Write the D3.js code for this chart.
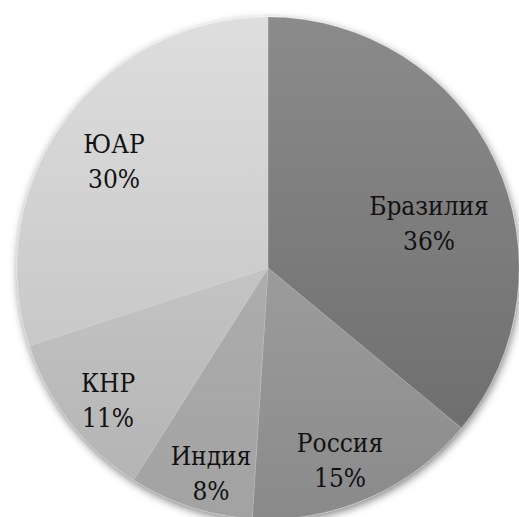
<!DOCTYPE html>
<html>
<head>
<meta charset="utf-8">
<script src="https://cdn.jsdelivr.net/npm/d3@7"></script>
<style>
  html, body { margin: 0; padding: 0; background: #fff; }
  svg { display: block; }
  .lbl { font-family: "DejaVu Serif Condensed", "DejaVu Serif", serif; font-stretch: condensed; font-size: 26px; }
</style>
</head>
<body>
<svg id="chart" width="519" height="517"></svg>
<script>
// Share by country, percent
const countries = ["Бразилия", "Россия", "Индия", "КНР", "ЮАР"];
const shares = [36, 15, 8, 11, 30];

// Slice shading (top, bottom of each gradient)
const shadeTop = ["#8b8b8b", "#9c9c9c", "#adadad", "#c4c4c4", "#dedede"];
const shadeBottom = ["#6f6f6f", "#8a8a8a", "#a2a2a2", "#b4b4b4", "#c8c8c8"];

// Label anchor points (centre of the two-line label)
const labelPos = [[429, 222], [340, 459], [211, 472], [108, 399], [114, 160]];

const cx = 268, cy = 268, R = 251;

const svg = d3.select("#chart");
const defs = svg.append("defs");

const shadow = defs.append("filter")
  .attr("id", "pieShadow")
  .attr("x", "-10%").attr("y", "-10%")
  .attr("width", "120%").attr("height", "120%");
shadow.append("feDropShadow")
  .attr("dx", 1).attr("dy", 3)
  .attr("stdDeviation", 4)
  .attr("flood-color", "#000")
  .attr("flood-opacity", 0.5);

countries.forEach((c, i) => {
  const g = defs.append("linearGradient")
    .attr("id", "shade" + i)
    .attr("x1", 0).attr("y1", 0).attr("x2", 0).attr("y2", 1);
  g.append("stop").attr("offset", "0%").attr("stop-color", shadeTop[i]);
  g.append("stop").attr("offset", "100%").attr("stop-color", shadeBottom[i]);
});

const data = countries.map((name, i) => ({ name, value: shares[i], i }));

const pie = d3.pie().sort(null).value(d => d.value);
const arc = d3.arc().innerRadius(0).outerRadius(R);

const g = svg.append("g")
  .attr("transform", `translate(${cx},${cy})`);

const slices = g.append("g").attr("filter", "url(#pieShadow)");
slices.selectAll("path")
  .data(pie(data))
  .join("path")
  .attr("d", arc)
  .attr("fill", d => `url(#shade${d.data.i})`)
  .attr("stroke", "rgba(255,255,255,0.25)")
  .attr("stroke-width", 0.6);

const labels = svg.append("g")
  .attr("class", "lbl")
  .attr("fill", "#111")
  .attr("text-anchor", "middle");

labels.selectAll("text")
  .data(data)
  .join("text")
  .attr("transform", d => `translate(${labelPos[d.i][0]},${labelPos[d.i][1]})`)
  .each(function(d) {
    const t = d3.select(this);
    t.append("tspan").attr("x", 0).attr("y", -7).text(d.name);
    t.append("tspan").attr("x", 0).attr("y", 28).text(d.value + "%");
  });
</script>
</body>
</html>
